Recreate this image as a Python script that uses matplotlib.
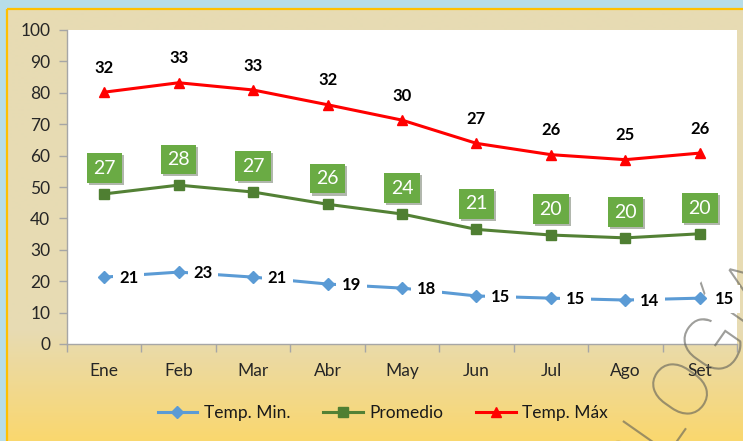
import matplotlib
matplotlib.use("Agg")
import matplotlib.pyplot as plt
import matplotlib.patheffects as pe
import matplotlib.transforms as mtransforms
from matplotlib.patches import Rectangle, PathPatch
from matplotlib.textpath import TextPath
from matplotlib.font_manager import FontProperties
import numpy as np

months = ['Ene', 'Feb', 'Mar', 'Abr', 'May', 'Jun', 'Jul', 'Ago', 'Set']
tmin_pos = [21.3, 22.9, 21.3, 19.1, 17.8, 15.3, 14.6, 14.0, 14.6]
tmin_lbl = [21, 23, 21, 19, 18, 15, 15, 14, 15]
prom_pos = [47.8, 50.6, 48.4, 44.5, 41.4, 36.5, 34.7, 33.8, 35.1]
prom_lbl = [27, 28, 27, 26, 24, 21, 20, 20, 20]
tmax_pos = [80.2, 83.2, 80.9, 76.2, 71.3, 63.9, 60.3, 58.7, 60.8]
tmax_lbl = [32, 33, 33, 32, 30, 27, 26, 25, 26]
yticks = list(range(0, 101, 10))

plt.rcParams['font.family'] = ['Lato', 'DejaVu Sans']

W, H = 743, 441
fig = plt.figure(figsize=(W / 100, H / 100), dpi=100)

# background
bg = fig.add_axes([0, 0, 1, 1], zorder=0)
bg.set_xlim(0, W)
bg.set_ylim(H, 0)
bg.axis('off')
bg.add_patch(Rectangle((0, 0), W, H, color='#b7dde8', zorder=0))
ys = np.arange(9, H + 1)
top = np.array([231, 219, 179]) / 255
bot = np.array([250, 215, 110]) / 255
t = np.clip((ys - 330) / (H - 330), 0, 1)[:, None]
grad = (top * (1 - t) + bot * t)[:, None, :]
bg.imshow(grad, extent=(7, W, H, 9), aspect='auto', zorder=1, interpolation='bilinear')
bg.plot([7, 7], [H, 8.5], color='#ffc000', lw=1.6, zorder=2, solid_capstyle='butt')
bg.plot([7, W], [8.5, 8.5], color='#ffc000', lw=1.6, zorder=2, solid_capstyle='butt')

# main axes
ax = fig.add_axes([67 / W, 1 - 344 / H, (737 - 67) / W, (344 - 30) / H], zorder=2)
ax.set_facecolor('white')
x = np.arange(len(months))

l1, = ax.plot(x, tmin_pos, color='#5b9bd5', lw=2.2, marker='D', ms=6.5,
              label='Temp. Min.', zorder=3)
l2, = ax.plot(x, prom_pos, color='#538135', lw=2.2, marker='s', ms=6.5,
              markerfacecolor='#4f7f32', markeredgecolor='#4f7f32', label='Promedio', zorder=3)
l3, = ax.plot(x, tmax_pos, color='#ff0000', lw=2.2, marker='^', ms=7.5,
              label='Temp. Máx', zorder=3)

ax.set_xlim(-0.5, len(months) - 0.5)
ax.set_ylim(0, 100)
ax.set_yticks(yticks)
ax.set_xticks(x)
ax.set_xticklabels(months)
ax.set_xticks(np.arange(-0.5, len(months)), minor=True)
ax.tick_params(axis='x', which='major', length=0, pad=14, labelsize=12.5, labelcolor='#262626')
ax.tick_params(axis='x', which='minor', length=6, width=1, color='#a6a6a6', direction='out')
ax.tick_params(axis='y', length=6, width=1, color='#a6a6a6', pad=6, labelsize=12.5, labelcolor='#262626')
for s in ['top', 'right']:
    ax.spines[s].set_visible(False)
for s in ['left', 'bottom']:
    ax.spines[s].set_color('#a6a6a6')
    ax.spines[s].set_linewidth(1)

# watermark: thin grey letters (over the plot, under the labels)
wm_font = FontProperties(family='Roboto', weight='light')
wm_size = 80
tp = TextPath((0, 0), 'OLOGÍA', size=wm_size, prop=wm_font)
w2 = TextPath((0, 0), 'OL', size=wm_size, prop=wm_font).get_extents().x1
w3 = TextPath((0, 0), 'OLO', size=wm_size, prop=wm_font).get_extents().x1
u, v = (w2 + w3) / 2, wm_size * 0.355          # centre of the 2nd "O" in text units
ang = np.deg2rad(55)
target = (678, H - 392)                         # where that "O" sits, in pixels
ox = target[0] - (u * np.cos(ang) - v * np.sin(ang))
oy = target[1] - (u * np.sin(ang) + v * np.cos(ang))
wm_tr = mtransforms.Affine2D().rotate(ang).translate(ox, oy)
wm = PathPatch(tp, facecolor='#5e5e58', edgecolor='none', alpha=0.6,
               transform=wm_tr, zorder=4, clip_on=False)
ax.add_artist(wm)

# labels
for xi, yp, lb in zip(x, tmax_pos, tmax_lbl):
    ax.annotate(str(lb), (xi, yp), xytext=(0, 17.5), textcoords='offset points',
                ha='center', va='center', fontsize=12, fontweight='bold', color='black',
                zorder=5, annotation_clip=False)

for xi, yp, lb in zip(x, prom_pos, prom_lbl):
    a = ax.annotate(str(lb), (xi, yp), xytext=(0, 18.5), textcoords='offset points',
                    ha='center', va='center', fontsize=14, color='white', zorder=5,
                    bbox=dict(boxstyle='square,pad=0.33', facecolor='#6aab44', edgecolor='none'),
                    annotation_clip=False)
    a.get_bbox_patch().set_path_effects([pe.SimplePatchShadow(offset=(1.5, -1.5), alpha=0.35),
                                         pe.Normal()])

for xi, yp, lb in zip(x, tmin_pos, tmin_lbl):
    ax.annotate(str(lb), (xi, yp), xytext=(17.5, -0.5), textcoords='offset points',
                ha='center', va='center', fontsize=12, fontweight='bold', color='black',
                zorder=5, annotation_clip=False, clip_on=False,
                bbox=dict(boxstyle='square,pad=0.35', facecolor='white', edgecolor='none'))

leg = fig.legend(handles=[l1, l2, l3], loc='center', bbox_to_anchor=(0.515, 1 - 413 / H),
                 ncol=3, frameon=False, fontsize=12.5, handlelength=2.3, columnspacing=1.9,
                 handletextpad=0.35)
for txt in leg.get_texts():
    txt.set_color('#1a1a1a')

fig.savefig('out.png', dpi=100)
